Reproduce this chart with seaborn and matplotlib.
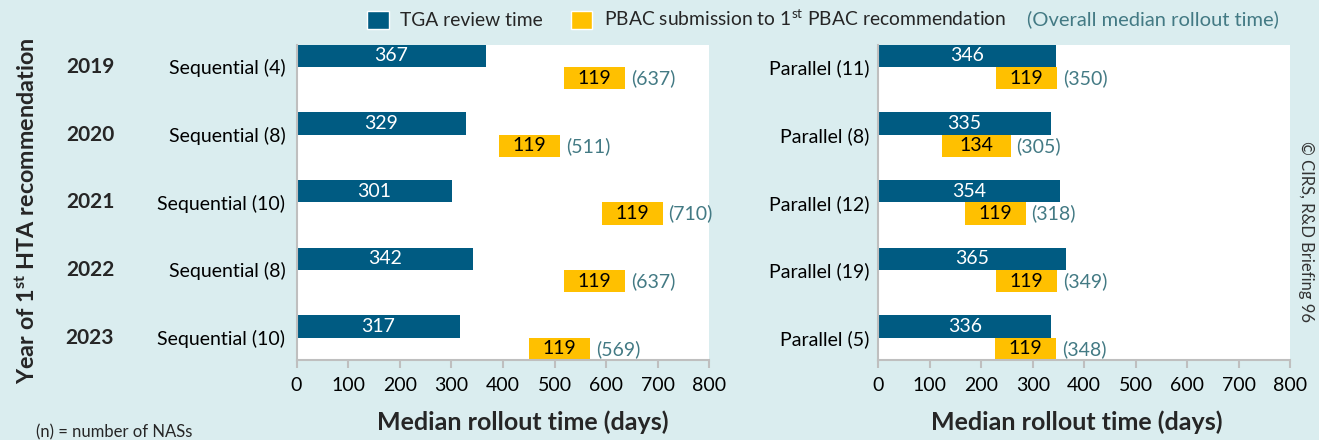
import pandas as pd
import seaborn as sns
import matplotlib.pyplot as plt
from matplotlib.patches import Patch
from matplotlib.transforms import blended_transform_factory

years = ['2019', '2020', '2021', '2022', '2023']

seq_labels = ['Sequential (4)', 'Sequential (8)', 'Sequential (10)', 'Sequential (8)', 'Sequential (10)']
seq_tga = [367, 329, 301, 342, 317]
seq_pbac = [119, 119, 119, 119, 119]
seq_pbac_start = [518, 392, 591, 518, 450]
seq_total = [637, 511, 710, 637, 569]

par_labels = ['Parallel (11)', 'Parallel (8)', 'Parallel (12)', 'Parallel (19)', 'Parallel (5)']
par_tga = [346, 335, 354, 365, 336]
par_pbac = [119, 134, 119, 119, 119]
par_pbac_start = [229, 123, 168, 229, 227]
par_total = [350, 305, 318, 349, 348]

BG = '#DAEDEF'
BLUE = '#005B82'
GOLD = '#FFC000'
TEAL = '#437A84'
GREY = '#BFBFBF'

sns.set_theme(style='white')
plt.rcParams['font.family'] = ['Lato', 'DejaVu Sans']
plt.rcParams['mathtext.fontset'] = 'custom'
plt.rcParams['mathtext.rm'] = 'Lato'
plt.rcParams['mathtext.bf'] = 'Lato:bold'

fig = plt.figure(figsize=(13.19, 4.4), dpi=100, facecolor=BG)
ax1 = fig.add_axes([0.2248, 0.1818, 0.3131, 0.717])
ax2 = fig.add_axes([0.6659, 0.1818, 0.3121, 0.717])


def draw_panel(ax, labels, tga, pbac, start, total, xlab_x, ypad):
    df = pd.DataFrame({'year': years + years,
                       'series': ['TGA'] * len(tga) + ['PBAC'] * len(pbac),
                       'days': tga + pbac})
    sns.barplot(data=df, x='days', y='year', hue='series', palette=[BLUE, GOLD],
                orient='h', dodge=True, width=0.66, gap=0, linewidth=0, saturation=1,
                errorbar=None, legend=False, ax=ax)
    # PBAC bars start where the TGA step ended
    for patch, s in zip(ax.containers[1], start):
        patch.set_x(s)
    for patch, v in zip(ax.containers[0], tga):
        ax.text(patch.get_x() + patch.get_width() / 2, patch.get_y() + patch.get_height() / 2,
                str(v), ha='center', va='center', color='white', fontsize=14)
    for patch, v, t in zip(ax.containers[1], pbac, total):
        yc = patch.get_y() + patch.get_height() / 2
        ax.text(patch.get_x() + patch.get_width() / 2, yc, str(v),
                ha='center', va='center', color='black', fontsize=14)
        ax.annotate(f'({t})', xy=(patch.get_x() + patch.get_width(), yc),
                    xytext=(4, 0), textcoords='offset points',
                    ha='left', va='center', color=TEAL, fontsize=14)
    ax.set_facecolor('white')
    ax.set_xlim(0, 800)
    ax.set_ylim(4.33, -0.33)
    ax.set_xticks(range(0, 801, 100))
    ax.set_yticks(range(len(labels)))
    ax.set_yticklabels(labels)
    ax.set_ylabel('')
    ax.set_xlabel('Median rollout time (days)', fontsize=18, fontweight='bold')
    ax.xaxis.set_label_coords(xlab_x, -0.16)
    for side in ['top', 'right']:
        ax.spines[side].set_visible(False)
    for side in ['left', 'bottom']:
        ax.spines[side].set_color(GREY)
        ax.spines[side].set_linewidth(1.5)
    ax.tick_params(axis='x', bottom=True, length=6, width=1.5, color=GREY,
                   labelsize=14, pad=6, labelcolor='black')
    ax.tick_params(axis='y', left=False, labelsize=14, pad=ypad, labelcolor='black')


draw_panel(ax1, seq_labels, seq_tga, seq_pbac, seq_pbac_start, seq_total, 0.548, 2)
draw_panel(ax2, par_labels, par_tga, par_pbac, par_pbac_start, par_total, 0.483, 0.5)

trans = blended_transform_factory(fig.transFigure, ax1.transData)
for i, yr in enumerate(years):
    fig.text(90 / 1319, i, yr, transform=trans, ha='center', va='center',
             fontsize=15, fontweight='bold')

fig.text(27 / 1319, 1 - 211 / 440, r'Year of 1$^{\mathbf{st}}$ HTA recommendation',
         rotation=90, ha='center', va='center', fontsize=16.8, fontweight='bold')

fig.legend(handles=[Patch(facecolor=BLUE), Patch(facecolor=GOLD)],
           labels=['TGA review time', r'PBAC submission to 1$^{\mathrm{st}}$ PBAC recommendation'],
           ncol=2, loc='center left', bbox_to_anchor=(350 / 1319, 1 - 19 / 440),
           frameon=False, fontsize=13.9, handlelength=1.1, handleheight=1.1,
           handletextpad=0.6, columnspacing=1.45)
fig.text(1027 / 1319, 1 - 19 / 440, '(Overall median rollout time)', color=TEAL,
         ha='left', va='center', fontsize=14.5)

fig.text(1306 / 1319, 1 - 231 / 440, '© CIRS, R&D Briefing 96', rotation=-90,
         ha='center', va='center', fontsize=12, color='#333333')
fig.text(36 / 1319, 1 - 432 / 440, '(n) = number of NASs', ha='left', va='center',
         fontsize=12)

fig.savefig('out.png', dpi=100, facecolor=BG)
